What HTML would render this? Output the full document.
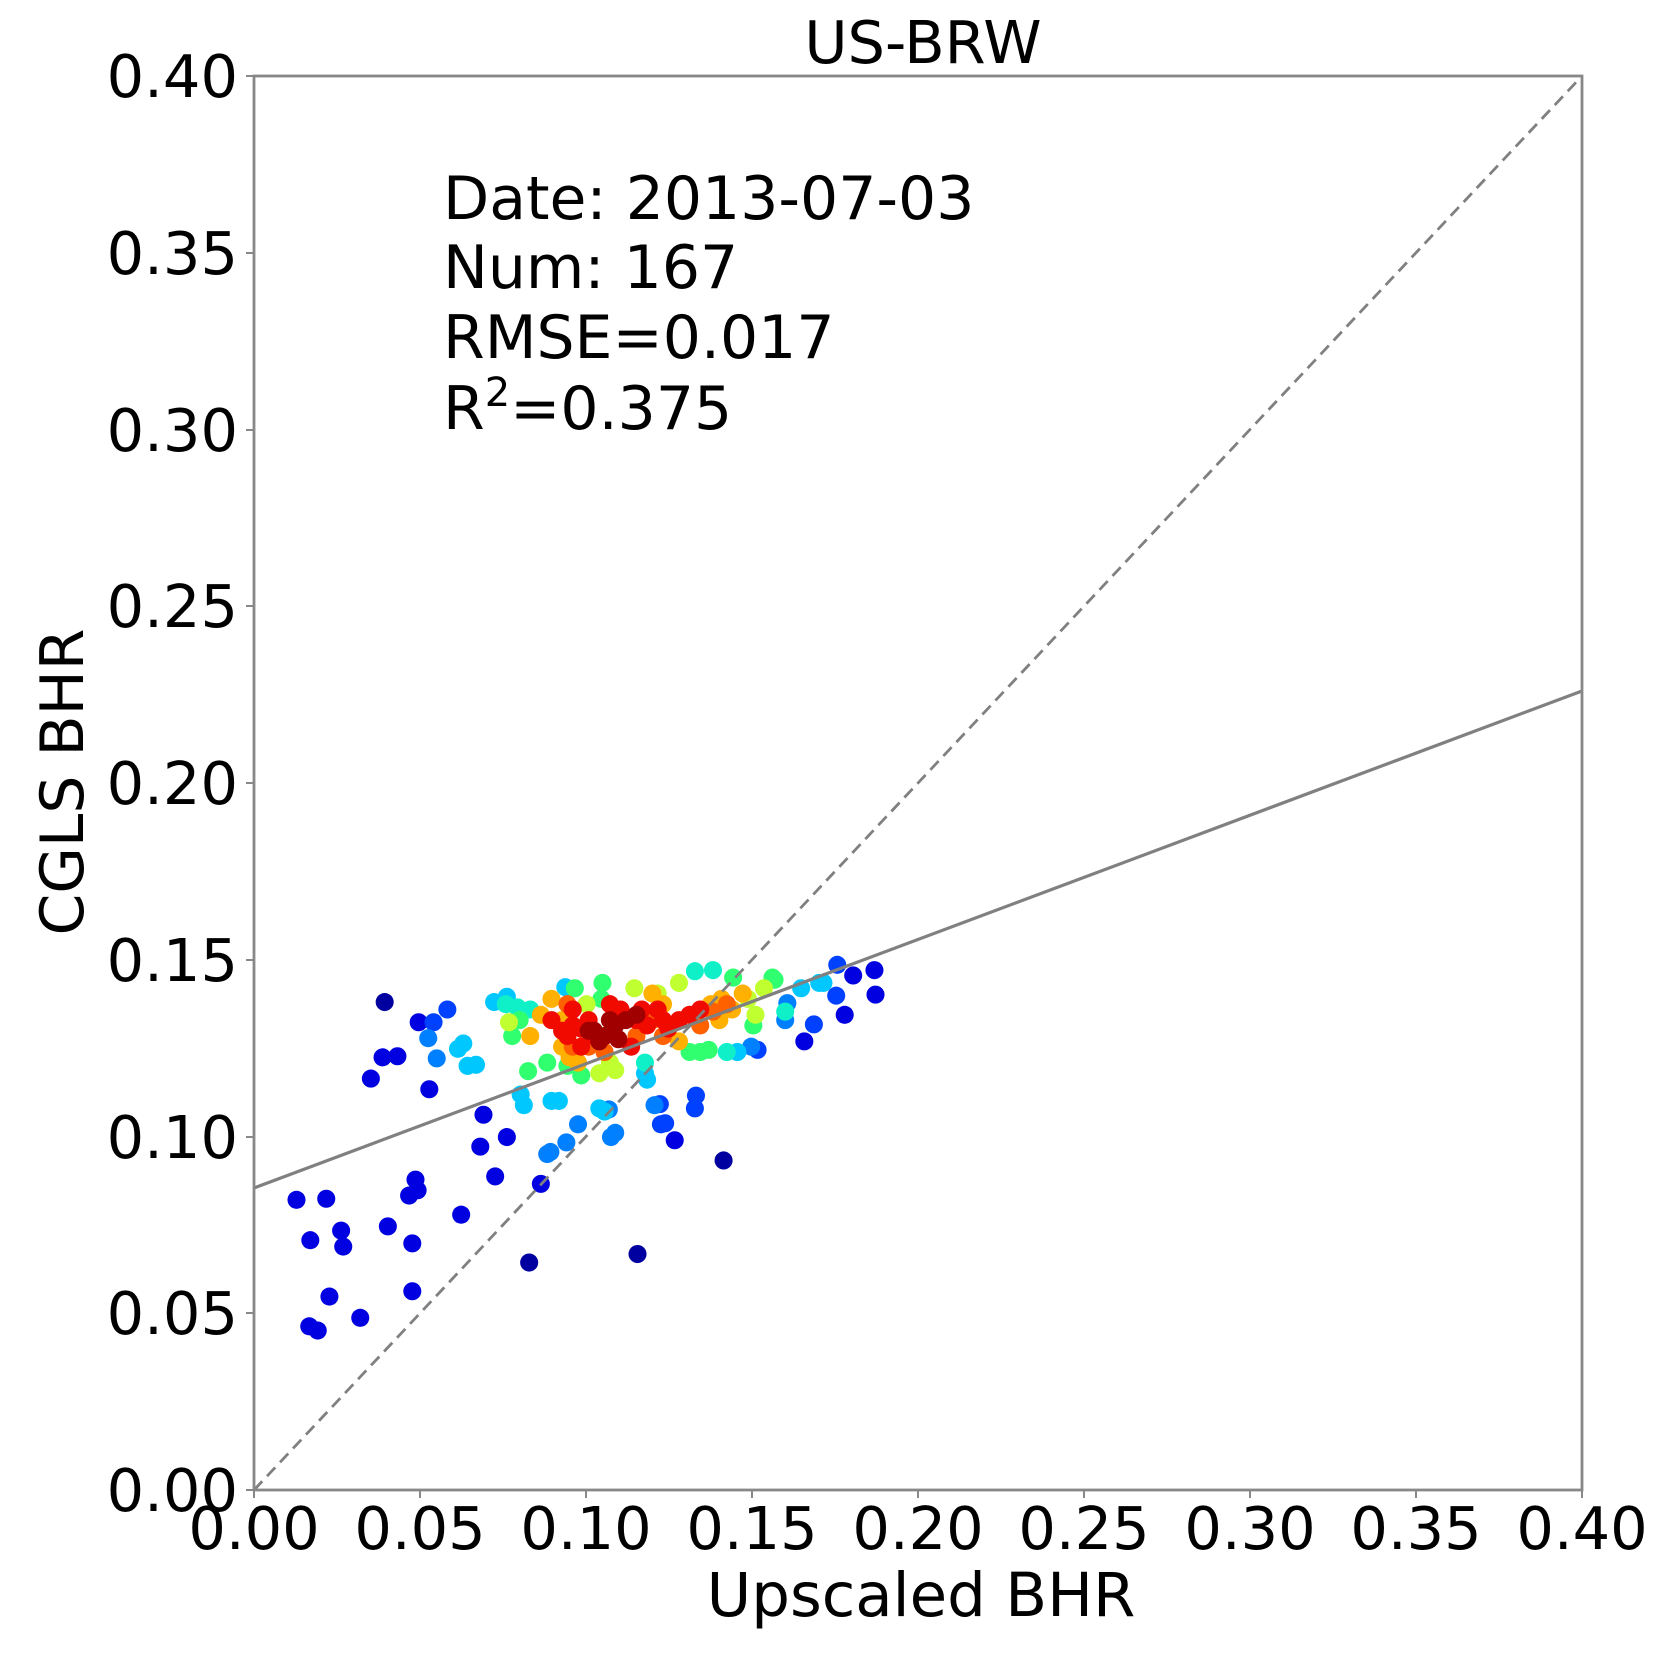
<!DOCTYPE html>
<html><head><meta charset="utf-8"><style>
html,body{margin:0;padding:0;background:#fff;}
svg{display:block;}
text{font-family:"DejaVu Sans","Liberation Sans",sans-serif;fill:#000;}
</style></head><body>
<svg width="1665" height="1660" viewBox="0 0 1665 1660" xmlns="http://www.w3.org/2000/svg">
<rect width="1665" height="1660" fill="#fff"/>
<g transform="translate(254,76) scale(1.0624,1.0632) translate(-240,-72)">
<g>
<g fill="#0000e0">
<circle cx="280" cy="1129" r="8.5"/><circle cx="308" cy="1128" r="8.5"/><circle cx="293" cy="1167" r="8.5"/><circle cx="322" cy="1158" r="8.5"/><circle cx="324" cy="1173" r="8.5"/><circle cx="311" cy="1220" r="8.5"/><circle cx="340" cy="1240" r="8.5"/><circle cx="292" cy="1248" r="8.5"/><circle cx="300" cy="1252" r="8.5"/><circle cx="366" cy="1154" r="8.5"/><circle cx="389" cy="1170" r="8.5"/><circle cx="389" cy="1215" r="8.5"/><circle cx="386" cy="1125" r="8.5"/><circle cx="392" cy="1110" r="8.5"/><circle cx="394" cy="1120" r="8.5"/><circle cx="435" cy="1143" r="8.5"/><circle cx="350" cy="1015" r="8.5"/><circle cx="361" cy="995" r="8.5"/><circle cx="375" cy="994" r="8.5"/><circle cx="405" cy="1025" r="8.5"/><circle cx="395" cy="962" r="8.5"/><circle cx="456" cy="1049" r="8.5"/><circle cx="453" cy="1079" r="8.5"/><circle cx="467" cy="1107" r="8.5"/><circle cx="478" cy="1070" r="8.5"/><circle cx="510" cy="1114" r="8.5"/><circle cx="636" cy="1073" r="8.5"/><circle cx="758" cy="980" r="8.5"/><circle cx="796" cy="955" r="8.5"/><circle cx="824" cy="913" r="8.5"/><circle cx="825" cy="936" r="8.5"/><circle cx="804" cy="918" r="8.5"/>
</g>
<g fill="#0040ff">
<circle cx="409" cy="962" r="8.5"/><circle cx="422" cy="950" r="8.5"/><circle cx="627" cy="1057" r="8.5"/><circle cx="656" cy="1031" r="8.5"/><circle cx="789" cy="908" r="8.5"/><circle cx="788" cy="937" r="8.5"/><circle cx="714" cy="988" r="8.5"/><circle cx="622" cy="1039" r="8.5"/><circle cx="623" cy="1058" r="8.5"/><circle cx="655" cy="1043" r="8.5"/><circle cx="767" cy="964" r="8.5"/>
</g>
<g fill="#0000a0"><circle cx="363" cy="943" r="8.5"/><circle cx="682" cy="1092" r="8.5"/><circle cx="499" cy="1188" r="8.5"/><circle cx="601" cy="1180" r="8.5"/></g>
<g fill="#0080ff">
<circle cx="404" cy="977" r="8.5"/><circle cx="412" cy="996" r="8.5"/><circle cx="516" cy="1086" r="8.5"/><circle cx="519" cy="1084" r="8.5"/><circle cx="534" cy="1075" r="8.5"/><circle cx="545" cy="1058" r="8.5"/><circle cx="576" cy="1070" r="8.5"/><circle cx="580" cy="1066" r="8.5"/><circle cx="574" cy="1044" r="8.5"/><circle cx="617" cy="1040" r="8.5"/><circle cx="708" cy="985" r="8.5"/><circle cx="740" cy="960" r="8.5"/><circle cx="742" cy="944" r="8.5"/>
</g>
<g fill="#00c8ff">
<circle cx="432" cy="987" r="8.5"/><circle cx="437" cy="982" r="8.5"/><circle cx="441" cy="1003" r="8.5"/><circle cx="449" cy="1002" r="8.5"/><circle cx="466" cy="943" r="8.5"/><circle cx="478" cy="938" r="8.5"/><circle cx="491" cy="1030" r="8.5"/><circle cx="494" cy="1040" r="8.5"/><circle cx="520" cy="1036" r="8.5"/><circle cx="527" cy="1036" r="8.5"/><circle cx="533" cy="929" r="8.5"/><circle cx="565" cy="1043" r="8.5"/><circle cx="570" cy="1046" r="8.5"/><circle cx="608" cy="1010" r="8.5"/><circle cx="610" cy="1016" r="8.5"/><circle cx="755" cy="930" r="8.5"/><circle cx="772" cy="925" r="8.5"/><circle cx="776" cy="925" r="8.5"/><circle cx="695" cy="990" r="8.5"/>
</g>
<g fill="#10f0c8">
<circle cx="477" cy="945" r="8.5"/><circle cx="488" cy="948" r="8.5"/><circle cx="655" cy="914" r="8.5"/><circle cx="672" cy="913" r="8.5"/><circle cx="685" cy="990" r="8.5"/><circle cx="740" cy="952" r="8.5"/><circle cx="608" cy="1000" r="8.5"/><circle cx="500" cy="950" r="8.5"/>
</g>
<g fill="#30ff70">
<circle cx="483" cy="975" r="8.5"/><circle cx="490" cy="960" r="8.5"/><circle cx="498" cy="1008" r="8.5"/><circle cx="516" cy="1000" r="8.5"/><circle cx="535" cy="1003" r="8.5"/><circle cx="542" cy="930" r="8.5"/><circle cx="568" cy="925" r="8.5"/><circle cx="567" cy="940" r="8.5"/><circle cx="650" cy="990" r="8.5"/><circle cx="668" cy="988" r="8.5"/><circle cx="691" cy="920" r="8.5"/><circle cx="730" cy="922" r="8.5"/><circle cx="728" cy="920" r="8.5"/><circle cx="710" cy="965" r="8.5"/><circle cx="660" cy="990" r="8.5"/><circle cx="548" cy="1012" r="8.5"/>
</g>
<g fill="#c0ff30">
<circle cx="480" cy="962" r="8.5"/><circle cx="553" cy="945" r="8.5"/><circle cx="565" cy="1010" r="8.5"/><circle cx="580" cy="1007" r="8.5"/><circle cx="598" cy="930" r="8.5"/><circle cx="620" cy="935" r="8.5"/><circle cx="705" cy="940" r="8.5"/><circle cx="712" cy="955" r="8.5"/><circle cx="720" cy="930" r="8.5"/><circle cx="640" cy="925" r="8.5"/><circle cx="575" cy="1000" r="8.5"/>
</g>
<g fill="#ffb000">
<circle cx="500" cy="975" r="8.5"/><circle cx="510" cy="955" r="8.5"/><circle cx="520" cy="940" r="8.5"/><circle cx="530" cy="960" r="8.5"/><circle cx="537" cy="995" r="8.5"/><circle cx="545" cy="1000" r="8.5"/><circle cx="640" cy="980" r="8.5"/><circle cx="670" cy="945" r="8.5"/><circle cx="680" cy="940" r="8.5"/><circle cx="690" cy="950" r="8.5"/><circle cx="700" cy="935" r="8.5"/><circle cx="615" cy="935" r="8.5"/><circle cx="625" cy="945" r="8.5"/><circle cx="678" cy="960" r="8.5"/><circle cx="530" cy="985" r="8.5"/>
</g>
<g fill="#ff6000">
<circle cx="555" cy="985" r="8.5"/><circle cx="570" cy="990" r="8.5"/><circle cx="600" cy="975" r="8.5"/><circle cx="615" cy="960" r="8.5"/><circle cx="660" cy="965" r="8.5"/><circle cx="535" cy="945" r="8.5"/><circle cx="625" cy="975" r="8.5"/><circle cx="685" cy="945" r="8.5"/><circle cx="540" cy="985" r="8.5"/><circle cx="672" cy="952" r="8.5"/>
</g>
<g fill="#f00a00">
<circle cx="520" cy="960" r="8.5"/><circle cx="530" cy="970" r="8.5"/><circle cx="540" cy="965" r="8.5"/><circle cx="548" cy="985" r="8.5"/><circle cx="555" cy="960" r="8.5"/><circle cx="560" cy="975" r="8.5"/><circle cx="585" cy="950" r="8.5"/><circle cx="600" cy="960" r="8.5"/><circle cx="610" cy="965" r="8.5"/><circle cx="625" cy="960" r="8.5"/><circle cx="640" cy="960" r="8.5"/><circle cx="650" cy="955" r="8.5"/><circle cx="660" cy="950" r="8.5"/><circle cx="595" cy="985" r="8.5"/><circle cx="575" cy="945" r="8.5"/><circle cx="540" cy="950" r="8.5"/><circle cx="535" cy="975" r="8.5"/><circle cx="548" cy="968" r="8.5"/><circle cx="620" cy="950" r="8.5"/><circle cx="630" cy="968" r="8.5"/><circle cx="605" cy="950" r="8.5"/>
</g>
<g fill="#a00000">
<circle cx="560" cy="970" r="8.5"/><circle cx="570" cy="975" r="8.5"/><circle cx="580" cy="965" r="8.5"/><circle cx="590" cy="960" r="8.5"/><circle cx="575" cy="960" r="8.5"/><circle cx="565" cy="980" r="8.5"/><circle cx="600" cy="955" r="8.5"/><circle cx="583" cy="978" r="8.5"/><circle cx="555" cy="970" r="8.5"/>
</g>
</g>
</g>
<line x1="254" y1="1490" x2="1582" y2="76" stroke="#808080" stroke-width="2.8" stroke-dasharray="12,7"/>
<line x1="254" y1="1188" x2="1582" y2="691" stroke="#808080" stroke-width="3.2"/>
<rect x="254" y="76" width="1328" height="1414" fill="none" stroke="#888" stroke-width="2.8"/>
<g stroke="#888" stroke-width="2">
<line x1="246" y1="1490" x2="254" y2="1490"/><line x1="246" y1="1313" x2="254" y2="1313"/><line x1="246" y1="1137" x2="254" y2="1137"/><line x1="246" y1="960" x2="254" y2="960"/><line x1="246" y1="783" x2="254" y2="783"/><line x1="246" y1="606" x2="254" y2="606"/><line x1="246" y1="430" x2="254" y2="430"/><line x1="246" y1="253" x2="254" y2="253"/><line x1="246" y1="76" x2="254" y2="76"/>
<line x1="254" y1="1490" x2="254" y2="1498"/><line x1="420" y1="1490" x2="420" y2="1498"/><line x1="586" y1="1490" x2="586" y2="1498"/><line x1="752" y1="1490" x2="752" y2="1498"/><line x1="918" y1="1490" x2="918" y2="1498"/><line x1="1084" y1="1490" x2="1084" y2="1498"/><line x1="1250" y1="1490" x2="1250" y2="1498"/><line x1="1416" y1="1490" x2="1416" y2="1498"/><line x1="1582" y1="1490" x2="1582" y2="1498"/>
</g>
<g font-size="59" text-anchor="end">
<text x="238" y="1511">0.00</text><text x="238" y="1334">0.05</text><text x="238" y="1158">0.10</text><text x="238" y="981">0.15</text><text x="238" y="804">0.20</text><text x="238" y="627">0.25</text><text x="238" y="451">0.30</text><text x="238" y="274">0.35</text><text x="238" y="97">0.40</text>
</g>
<g font-size="59" text-anchor="middle">
<text x="254" y="1549">0.00</text><text x="420" y="1549">0.05</text><text x="586" y="1549">0.10</text><text x="752" y="1549">0.15</text><text x="918" y="1549">0.20</text><text x="1084" y="1549">0.25</text><text x="1250" y="1549">0.30</text><text x="1416" y="1549">0.35</text><text x="1582" y="1549">0.40</text>
</g>
<text x="921" y="1616" font-size="61" text-anchor="middle">Upscaled BHR</text>
<text x="923" y="63" font-size="59" text-anchor="middle">US-BRW</text>
<text transform="translate(83,782) rotate(-90)" font-size="60" text-anchor="middle">CGLS BHR</text>
<g font-size="60">
<text x="443" y="219">Date: 2013-07-03</text>
<text x="443" y="288">Num: 167</text>
<text x="443" y="358">RMSE=0.017</text>
<text x="443" y="429">R<tspan font-size="40" dy="-23">2</tspan><tspan dy="23">=0.375</tspan></text>
</g>
</svg>
</body></html>
